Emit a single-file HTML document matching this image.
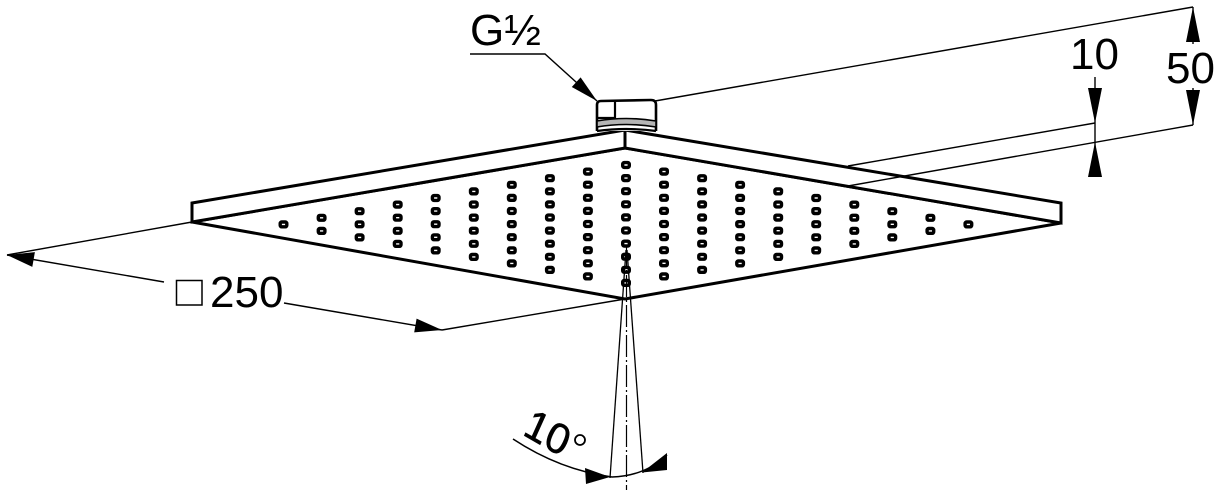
<!DOCTYPE html>
<html>
<head>
<meta charset="utf-8">
<style>
  html, body { margin: 0; padding: 0; background: #fff; }
  svg { display: block; }
  text { font-family: "Liberation Sans", "DejaVu Sans", sans-serif; fill: #000; }
</style>
</head>
<body>
<svg width="1220" height="493" viewBox="0 0 1220 493" xmlns="http://www.w3.org/2000/svg">
  <rect width="1220" height="493" fill="#fff"/>
  <defs>
    <rect id="n" x="-3.3" y="-2.4" width="6.6" height="4.8" rx="1.5" fill="none" stroke="#000" stroke-width="3.4"/>
    <g id="c1"><use href="#n"/></g>
    <g id="c2"><use href="#c1"/><use href="#n" y="13.1"/></g>
    <g id="c3"><use href="#c2"/><use href="#n" y="26.2"/></g>
    <g id="c4"><use href="#c3"/><use href="#n" y="39.3"/></g>
    <g id="c5"><use href="#c4"/><use href="#n" y="52.4"/></g>
    <g id="c6"><use href="#c5"/><use href="#n" y="65.5"/></g>
    <g id="c7"><use href="#c6"/><use href="#n" y="78.6"/></g>
    <g id="c8"><use href="#c7"/><use href="#n" y="91.7"/></g>
    <g id="c9"><use href="#c8"/><use href="#n" y="104.8"/></g>
    <g id="c10"><use href="#c9"/><use href="#n" y="117.9"/></g>
  </defs>

  <!-- extension / dimension lines (under plate) -->
  <g stroke="#000" stroke-width="1.4" fill="none">
    <line x1="655" y1="101" x2="1193" y2="7"/>
    <line x1="1095" y1="77" x2="1095" y2="177"/>
    <line x1="1193" y1="7" x2="1193" y2="44"/>
    <line x1="1193" y1="88" x2="1193" y2="125"/>
    <line x1="192" y1="222" x2="7" y2="255"/>
    <line x1="7" y1="255" x2="164" y2="282"/>
    <line x1="284" y1="303" x2="442" y2="330"/>
    <line x1="442" y1="330" x2="625" y2="299"/>
    <polyline points="470,54 545,54 597,101"/>
  </g>

  <!-- arrowheads -->
  <g fill="#000" stroke="none">
    <polygon points="597,101 580.6,77.4 571.8,87"/>
    <polygon points="1193,7 1186,42 1200,42"/>
    <polygon points="1193,125 1186,90 1200,90"/>
    <polygon points="1095,123 1088,88 1102,88"/>
    <polygon points="1095,142 1088,177 1102,177"/>
    <polygon points="7,255 34.9,252.1 32.3,266.9"/>
    <polygon points="442,330 416.6,318.6 414.2,332.4"/>
    <polygon points="610,477 585,468 586,484"/>
    <polygon points="642,472.5 667,453 667,470"/>
  </g>

  <!-- plate -->
  <g stroke="#000" stroke-width="3" fill="#fff" stroke-linejoin="miter">
    <polygon points="192,222 625,148 1061,223 625,299"/>
    <polygon points="192,203 625,130 1061,203 1061,223 625,148 192,222" />
    <line x1="625" y1="130" x2="625" y2="148"/>
  </g>

  <!-- extension lines over plate -->
  <g stroke="#000" stroke-width="1.4" fill="none">
    <line x1="848" y1="166" x2="1095" y2="123"/>
    <line x1="848" y1="186" x2="1193" y2="125"/>
  </g>

  <!-- nozzles -->
  <use href="#c1" x="283.5" y="224.4"/>
  <use href="#c2" x="321.6" y="217.8"/>
  <use href="#c3" x="359.6" y="211.2"/>
  <use href="#c4" x="397.7" y="204.6"/>
  <use href="#c5" x="435.7" y="198"/>
  <use href="#c6" x="473.8" y="191.4"/>
  <use href="#c7" x="511.8" y="184.8"/>
  <use href="#c8" x="549.9" y="178.2"/>
  <use href="#c9" x="587.9" y="171.6"/>
  <use href="#c10" x="626" y="165"/>
  <use href="#c9" x="664" y="171.6"/>
  <use href="#c8" x="702.1" y="178.2"/>
  <use href="#c7" x="740.1" y="184.8"/>
  <use href="#c6" x="778.2" y="191.4"/>
  <use href="#c5" x="816.2" y="198"/>
  <use href="#c4" x="854.3" y="204.6"/>
  <use href="#c3" x="892.3" y="211.2"/>
  <use href="#c2" x="930.4" y="217.8"/>
  <use href="#c1" x="968.4" y="224.4"/>

  <!-- connector -->
  <g stroke="#000" fill="#fff">
    <path d="M597,131 L597,105 Q597,101 601,101 L651,100 Q656,100 656,105 L656,131" stroke-width="2.6"/>
    <path d="M597,118 L615,118 L615,101" stroke-width="2.2" fill="none"/>
    <path d="M597,121 Q626,116 656,121 L656,127 Q626,122 597,127 Z" fill="#b5b5b5" stroke-width="1.6"/>
    <path d="M597,131 Q626,127 656,131" stroke-width="2.2" fill="none"/>
  </g>

  <!-- spray cone 10° -->
  <g stroke="#000" stroke-width="1.3" fill="none">
    <line x1="626" y1="250" x2="610" y2="478"/>
    <line x1="627" y1="250" x2="643" y2="473"/>
    <line x1="626.5" y1="245" x2="626.5" y2="490" stroke-dasharray="22 3 2 3" stroke-width="1.2"/>
    <path d="M513,439 Q560,470 612,477 Q645,476 667,455" stroke-width="1.5"/>
    <circle cx="580" cy="440" r="5" stroke-width="1.8"/>
  </g>

  <!-- labels -->
  <text x="470" y="45" font-size="44">G½</text>
  <text x="1070" y="69" font-size="44">10</text>
  <text x="1166" y="83" font-size="44">50</text>
  <rect x="176.5" y="280.5" width="25.5" height="24.5" fill="none" stroke="#000" stroke-width="1.5"/>
  <text x="210" y="307" font-size="44">250</text>
  <text transform="matrix(0.87,0.5,-0.41,0.91,521.5,434)" font-size="42" stroke="#000" stroke-width="0.6">10</text>
</svg>
</body>
</html>
